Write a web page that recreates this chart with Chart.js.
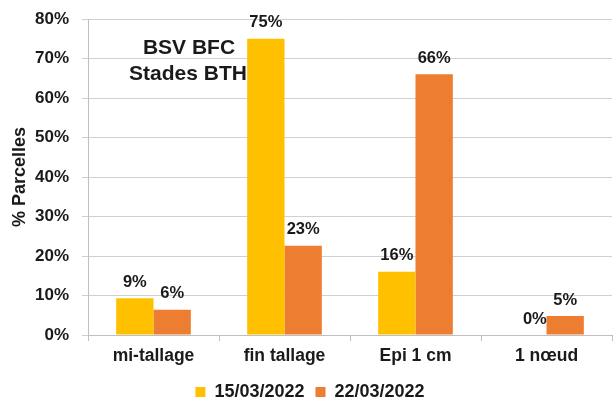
<!DOCTYPE html>
<html><head><meta charset="utf-8">
<script src="https://cdn.jsdelivr.net/npm/chart.js@4/dist/chart.umd.min.js"></script>
<style>html,body{margin:0;padding:0;background:#fff}#wrap{width:614px;height:403px}</style>
</head><body><div id="wrap"><canvas id="c" width="614" height="403"></canvas></div>
<script>
const categories = ["mi-tallage", "fin tallage", "Epi 1 cm", "1 nœud"];
const seriesNames = ["15/03/2022", "22/03/2022"];
const values1503 = [9.3, 75, 16, 0];
const values2203 = [6.4, 22.6, 66, 4.8];
const labels1503 = ["9%", "75%", "16%", "0%"];
const labels2203 = ["6%", "23%", "66%", "5%"];
const yTicks = [0, 10, 20, 30, 40, 50, 60, 70, 80];
const titleLines = ["BSV BFC", "Stades BTH"];

const FONT = "'Liberation Sans', Arial, sans-serif";

const valueLabels = {
  id: 'valueLabels',
  afterDatasetsDraw(chart) {
    const ctx = chart.ctx;
    ctx.save();
    ctx.font = "bold 16.5px " + FONT;
    ctx.fillStyle = "#1a1a1a";
    ctx.textAlign = "center";
    ctx.textBaseline = "middle";
    const labs = [labels1503, labels2203];
    chart.data.datasets.forEach((ds, di) => {
      const meta = chart.getDatasetMeta(di);
      meta.data.forEach((bar, i) => {
        const off = (di === 0 && ds.data[i] === 0) ? 7 : 0;
        ctx.fillText(labs[di][i], bar.x + off, bar.y - 16);
      });
    });
    ctx.font = "bold 21px " + FONT;
    ctx.fillText(titleLines[0], 189, 48);
    ctx.fillText(titleLines[1], 188, 74);
    ctx.restore();
  }
};

new Chart(document.getElementById('c'), {
  type: 'bar',
  data: {
    labels: categories,
    datasets: [
      { label: seriesNames[0], data: values1503, backgroundColor: '#FFC000', borderWidth: 0 },
      { label: seriesNames[1], data: values2203, backgroundColor: '#ED7D31', borderWidth: 0 }
    ]
  },
  options: {
    responsive: false,
    animation: false,
    layout: { padding: { top: 19, right: 2, left: 8, bottom: -8 } },
    datasets: { bar: { categoryPercentage: 0.57, barPercentage: 1.0 } },
    plugins: {
      legend: {
        position: 'bottom',
        labels: { boxWidth: 10, boxHeight: 10, padding: 11, color: '#1a1a1a', font: { family: FONT, size: 18, weight: 'bold' } }
      },
      tooltip: { enabled: false }
    },
    scales: {
      x: {
        grid: { display: true, drawOnChartArea: false, drawTicks: true, tickLength: 6, color: '#bfbfbf', offset: true },
        border: { color: '#bfbfbf' },
        ticks: { color: '#1a1a1a', font: { family: FONT, size: 17.5, weight: 'bold' }, padding: 5 }
      },
      y: {
        min: 0, max: 80,
        afterBuildTicks(axis) { axis.ticks = yTicks.map(v => ({ value: v })); },
        afterFit(axis) { axis.width = 80; axis.paddingTop = 0; },
        grid: { color: '#d0d0d0', tickLength: 6, drawTicks: true },
        border: { color: '#bfbfbf' },
        ticks: { color: '#1a1a1a', font: { family: FONT, size: 17, weight: 'bold' }, padding: 13, callback: v => v + '%' },
        title: { display: true, text: '% Parcelles', color: '#1a1a1a', font: { family: FONT, size: 18, weight: 'bold' }, padding: { top: 1, bottom: 7 } }
      }
    }
  },
  plugins: [valueLabels]
});
</script></body></html>
